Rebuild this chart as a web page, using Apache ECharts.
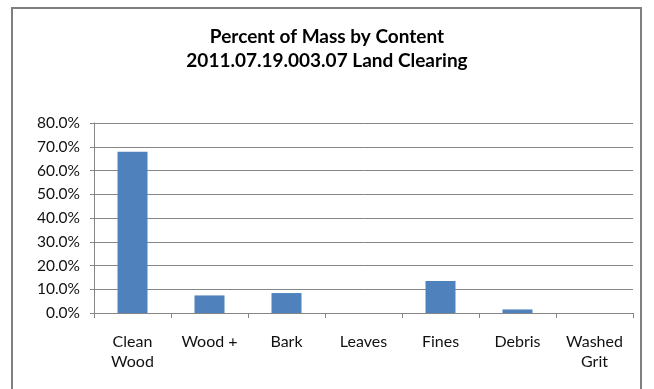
<!DOCTYPE html>
<html><head><meta charset="utf-8">
<script src="https://cdn.jsdelivr.net/npm/echarts@6/dist/echarts.min.js"></script>
<style>html,body{margin:0;padding:0;background:#fff}#c{width:654px;height:389px}</style>
</head><body><div id="c"></div>
<script>
const categories = ['Clean\nWood', 'Wood +', 'Bark', 'Leaves', 'Fines', 'Debris', 'Washed\nGrit'];
const values = [67.9, 7.4, 8.4, 0, 13.5, 1.5, 0];
const titleLines = ['Percent of Mass by Content', '2011.07.19.003.07 Land Clearing'];
const FONT = 'Lato, "Open Sans", sans-serif';
const chart = echarts.init(document.getElementById('c'));
chart.setOption({
  animation: false,
  backgroundColor: '#fff',
  title: {
    text: titleLines.join('\n'), left: 'center', top: 20,
    textStyle: {fontFamily: FONT, fontSize: 19, fontWeight: 'bold', color: '#000', lineHeight: 24}
  },
  graphic: [{type: 'rect', shape: {x: 12, y: 8, width: 629, height: 400},
    style: {fill: 'none', stroke: '#7f7f7f', lineWidth: 2}, silent: true}],
  grid: {left: 94, right: 21, top: 123, bottom: 76, containLabel: false},
  xAxis: {
    type: 'category', data: categories,
    axisLine: {lineStyle: {color: '#868686'}},
    axisTick: {show: true, length: 5, lineStyle: {color: '#868686'}},
    axisLabel: {fontFamily: FONT, fontSize: 16, color: '#111', margin: 19, lineHeight: 20}
  },
  yAxis: {
    type: 'value', min: 0, max: 80, interval: 10,
    axisLine: {show: true, lineStyle: {color: '#868686'}},
    axisTick: {show: true, length: 4, lineStyle: {color: '#868686'}},
    splitLine: {lineStyle: {color: '#868686'}},
    axisLabel: {fontFamily: FONT, fontSize: 15.5, color: '#111', margin: 14,
      formatter: v => v.toFixed(1) + '%'}
  },
  series: [{type: 'bar', data: values, barWidth: 30, itemStyle: {color: '#4F81BD'}}]
});
</script></body></html>
